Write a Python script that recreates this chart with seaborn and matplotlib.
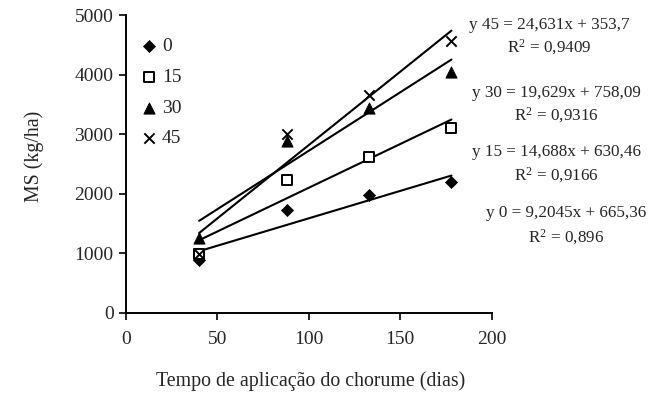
import numpy as np
import pandas as pd
import seaborn as sns
import matplotlib
matplotlib.use("Agg")
import matplotlib.pyplot as plt

sns.set_theme(style="white")
plt.rcParams["font.family"] = ["Liberation Serif", "DejaVu Serif"]
plt.rcParams["mathtext.fontset"] = "custom"
plt.rcParams["mathtext.rm"] = "Liberation Serif"
plt.rcParams["mathtext.it"] = "Liberation Serif:italic"

# Days of slurry application
dias = [40, 88, 133, 178]

# Dry matter (kg/ha) per slurry dose
doses = ["0", "15", "30", "45"]
ms_0 = [880, 1730, 1980, 2190]
ms_15 = [980, 2230, 2620, 3100]
ms_30 = [1250, 2880, 3440, 4040]
ms_45 = [990, 3000, 3650, 4560]

# Linear fits: slope, intercept, R²
slopes = [9.2045, 14.688, 19.629, 24.631]
intercepts = [665.36, 630.46, 758.09, 353.7]
r2 = ["0,896", "0,9166", "0,9316", "0,9409"]
eq_texts = ["y 0 = 9,2045x + 665,36", "y 15 = 14,688x + 630,46",
            "y 30 = 19,629x + 758,09", "y 45 = 24,631x + 353,7"]

series = [ms_0, ms_15, ms_30, ms_45]
marker_styles = [
    dict(marker="D", s=38, color="black", edgecolor="black"),
    dict(marker="s", s=55, facecolor="white", edgecolor="black", linewidth=1.4),
    dict(marker="^", s=65, color="black", edgecolor="black"),
    dict(marker="x", s=55, color="black", linewidth=1.4),
]

fig = plt.figure(figsize=(6.65, 3.97), dpi=100)
ax = fig.add_axes([0.1895, 0.2123, 0.5499, 0.7499])

rows = []
for d, vals in zip(doses, series):
    for x, y in zip(dias, vals):
        rows.append({"dias": x, "ms": y, "dose": d})
df = pd.DataFrame(rows)

handles = []
for d, style in zip(doses, marker_styles):
    sub = df[df["dose"] == d]
    sns.scatterplot(data=sub, x="dias", y="ms", ax=ax, zorder=3, legend=False, **style)
    handles.append(ax.collections[-1])

# Trend lines over the sampled range
xs = np.array([min(dias), max(dias)])
for a, b in zip(slopes, intercepts):
    line_df = pd.DataFrame({"dias": xs, "ms": a * xs + b})
    sns.lineplot(data=line_df, x="dias", y="ms", ax=ax, color="black", linewidth=1.5,
                 zorder=2, legend=False)

ax.set_xlim(0, 200)
ax.set_ylim(0, 5000)
ax.set_xticks([0, 50, 100, 150, 200])
ax.set_yticks([0, 1000, 2000, 3000, 4000, 5000])
ax.tick_params(axis="both", which="both", direction="out", length=5, width=1.2,
               color="black", labelsize=14, bottom=True, left=True, pad=4)
ax.tick_params(axis="x", pad=8)
for side in ["top", "right"]:
    ax.spines[side].set_visible(False)
for side in ["left", "bottom"]:
    ax.spines[side].set_color("black")
    ax.spines[side].set_linewidth(1.4)

ax.set_xlabel("Tempo de aplicação do chorume (dias)", fontsize=14.3)
ax.xaxis.set_label_coords(0.505, -0.229)
ax.xaxis.label.set_va("center")
ax.set_ylabel("MS (kg/ha)", fontsize=14.3)
ax.yaxis.set_label_coords(-0.25, 0.524)
ax.yaxis.label.set_va("center")

ax.legend(handles, doses, loc="upper left", bbox_to_anchor=(0.037, 0.925), frameon=False,
          fontsize=14, handletextpad=0.15, labelspacing=0.68, borderaxespad=0.0,
          handlelength=1.0, borderpad=0.0)

# Regression equations at the right
eq_pos = [(566, 213, 237), (556, 152, 175), (556, 93, 115), (549, 25, 47)]
for (cx, y1, y2), eq, r in zip(eq_pos, eq_texts, r2):
    fig.text(cx / 665, 1 - y1 / 397, eq, ha="center", va="center", fontsize=12.3)
    fig.text(cx / 665, 1 - y2 / 397, "R$^{2}$ = " + r, ha="center", va="center",
             fontsize=12.3)

fig.savefig("out.png", dpi=100)
